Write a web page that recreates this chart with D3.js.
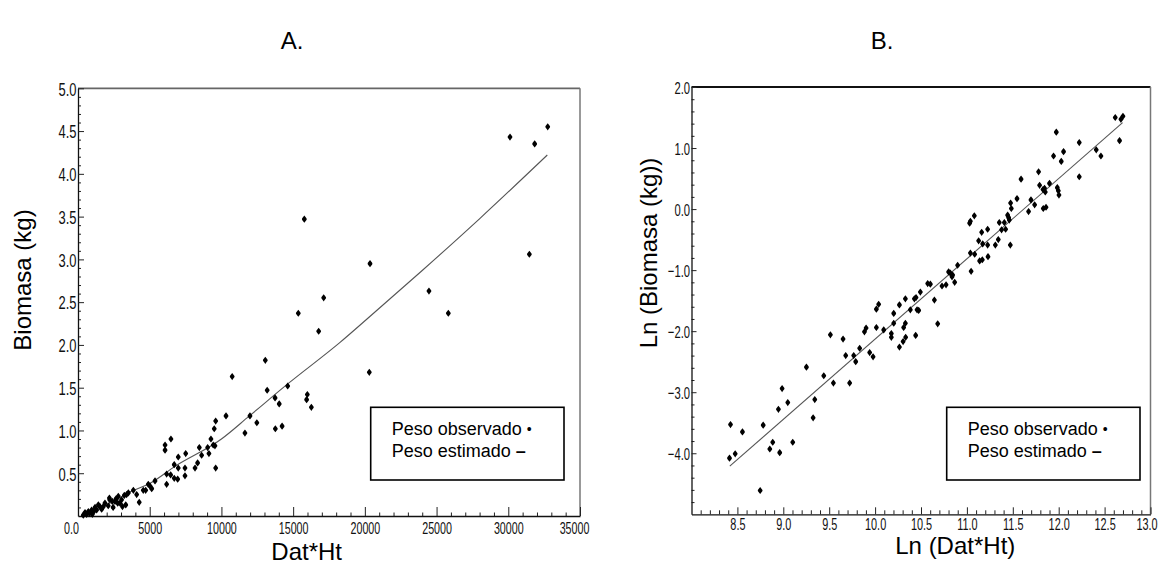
<!DOCTYPE html>
<html><head><meta charset="utf-8">
<script src="https://cdn.jsdelivr.net/npm/d3@7"></script>
<style>
html,body{margin:0;padding:0;background:#fff;}
svg{display:block;font-family:"Liberation Sans",Arial,sans-serif;}
</style></head>
<body>
<svg id="chart" width="1165" height="565"></svg>
<script>
// ---------- Panel A data: Dat*Ht vs Biomasa (kg) ----------
const aDatHt = [370,600,490,720,1090,950,1300,1190,1530,1770,2110,1420,1880,2390,2580,2190,2210,2770,2930,3040,2810,3230,3330,3390,3510,800,1650,2450,2650,1000,3100,
  3860,4090,4270,4550,4720,4900,5020,5140,5370,6070,6070,6480,6180,6180,6460,6710,6710,6950,6990,6990,7510,7460,7460,8160,8340,8620,8460,9040,9130,9270,9430,9550,9500,9600,9600,
  10320,11640,11990,12470,10750,13060,13190,13740,14030,13760,14230,14620,15360,15780,15990,15940,16270,16780,17130,20310,20360,24470,25820,30120,31470,31840,32750];
const aBiomasa = [0.01,0.02,0.04,0.05,0.05,0.07,0.07,0.10,0.11,0.11,0.12,0.13,0.15,0.17,0.17,0.21,0.19,0.15,0.15,0.19,0.23,0.24,0.13,0.25,0.27,0.03,0.08,0.10,0.20,0.02,0.11,
  0.30,0.25,0.16,0.30,0.30,0.37,0.35,0.32,0.41,0.83,0.77,0.90,0.49,0.37,0.48,0.60,0.44,0.43,0.69,0.56,0.73,0.56,0.47,0.56,0.62,0.71,0.80,0.80,0.73,0.90,0.83,0.82,1.02,1.11,0.56,
  1.17,0.97,1.17,1.09,1.63,1.82,1.47,1.38,1.31,1.02,1.05,1.52,2.37,3.47,1.42,1.36,1.27,2.16,2.55,1.68,2.95,2.63,2.37,4.43,3.06,4.35,4.55];
// estimated curve
const aFitDatHt  = [300,2000,3860,5000,6760,10000,11950,14665,18270,20130,24000,28030,32720];
const aFitBiomasa= [0.03,0.13,0.30,0.38,0.58,0.90,1.17,1.55,2.03,2.30,2.87,3.48,4.22];
const aXTicks = [0,5000,10000,15000,20000,25000,30000,35000];
const aXTickLabels = ["0.0","5000","10000","15000","20000","25000","30000","35000"];
const aYTicks = [0.5,1.0,1.5,2.0,2.5,3.0,3.5,4.0,4.5,5.0];

// ---------- Panel B data: Ln(Dat*Ht) vs Ln(Biomasa) ----------
const bLnDatHt = [8.425,8.414,8.476,8.555,8.781,8.748,8.853,8.885,8.961,8.947,8.987,9.049,9.103,9.252,9.325,9.343,9.441,9.513,9.546,9.651,9.680,9.723,9.767,9.789,9.832,9.884,9.902,9.941,9.978,10.014,10.014,10.039,
  10.094,10.177,10.177,10.203,10.203,10.265,10.265,10.305,10.333,10.311,10.330,10.330,10.384,10.428,10.446,10.442,10.457,10.475,10.493,10.573,10.602,10.646,10.682,10.729,10.773,10.801,10.838,10.820,10.845,10.867,10.899,
  11.046,11.038,11.085,11.030,11.038,11.081,11.128,11.139,11.168,11.161,11.172,11.226,11.226,11.230,11.310,11.342,11.353,11.378,11.408,11.422,11.444,11.455,11.462,11.473,11.476,11.484,11.546,11.590,11.672,11.698,11.738,11.781,11.792,11.832,11.862,11.829,11.854,11.846,11.900,11.944,11.974,11.985,11.996,12.003,12.028,12.053,12.224,12.224,12.409,12.460,12.616,12.663,12.678,12.700];
const bLnBiomasa = [-3.53,-4.08,-4.01,-3.65,-3.54,-4.61,-3.93,-3.82,-3.99,-3.28,-2.94,-3.17,-3.82,-2.59,-3.42,-3.12,-2.73,-2.06,-2.85,-2.13,-2.40,-2.85,-2.40,-2.50,-2.28,-2.01,-1.95,-2.35,-2.42,-1.94,-1.64,-1.56,
  -1.98,-2.04,-2.10,-1.71,-1.87,-1.57,-2.26,-2.17,-2.10,-1.94,-1.87,-1.47,-1.65,-1.47,-1.45,-2.07,-1.65,-1.66,-1.36,-1.22,-1.23,-1.49,-1.88,-1.26,-1.24,-1.03,-1.11,-1.05,-1.08,-1.20,-0.92,
  -1.02,-0.72,-0.74,-0.23,-0.20,-0.11,-0.52,-0.85,-0.83,-0.38,-0.57,-0.59,-0.33,-0.78,-0.59,-0.50,-0.22,-0.34,-0.22,-0.33,-0.10,-0.14,-0.18,-0.59,0.10,0.01,0.17,0.49,-0.04,0.15,0.07,0.61,0.39,0.01,0.03,0.32,0.28,0.34,0.42,0.87,1.26,0.35,0.30,0.23,0.78,0.94,1.09,0.53,0.97,0.87,1.50,1.12,1.47,1.52];
const bFitLnDatHt = [8.417,12.696];
const bFitLnBiomasa = [-4.21,1.415];
const bXTicks = [8.5,9.0,9.5,10.0,10.5,11.0,11.5,12.0,12.5,13.0];
const bYTicks = [-4,-3,-2,-1,0,1,2];

const legendLines = ["Peso observado", "Peso estimado"];

// ---------- drawing ----------
const svg = d3.select("#chart");
svg.append("rect").attr("width",1165).attr("height",565).attr("fill","#fff");

const marker = "M0,-3.6C1,-2.1 2.4,-0.9 2.4,0C2.4,0.9 1,2.1 0,3.6C-1,2.1 -2.4,0.9 -2.4,0C-2.4,-0.9 -1,-2.1 0,-3.6Z";

function panel(o){
  const g = svg.append("g");
  const x = d3.scaleLinear(o.xDomain, o.xRange);
  const y = d3.scaleLinear(o.yDomain, o.yRange);
  // frame (top & right)
  g.append("line").attr("x1",o.xRange[0]).attr("x2",o.xRange[1]).attr("y1",o.yRange[1]).attr("y2",o.yRange[1])
    .attr("stroke",o.topColor).attr("stroke-width",1.8);
  g.append("line").attr("x1",o.xRange[1]).attr("x2",o.xRange[1]).attr("y1",o.yRange[1]).attr("y2",o.yRange[0])
    .attr("stroke","#777").attr("stroke-width",1.5);
  // minor ticks
  g.append("g").attr("transform",`translate(0,${o.yRange[0]})`)
    .call(d3.axisBottom(x).tickValues(o.xMinor).tickFormat("").tickSizeInner(-o.xMinorLen).tickSizeOuter(0))
    .call(s=>s.select(".domain").remove());
  g.append("g").attr("transform",`translate(${o.xRange[0]},0)`)
    .call(d3.axisLeft(y).tickValues(o.yMinor).tickFormat("").tickSizeInner(-3).tickSizeOuter(0))
    .call(s=>s.select(".domain").remove());
  // major x axis
  const xa = g.append("g").attr("transform",`translate(0,${o.yRange[0]})`)
    .call(d3.axisBottom(x).tickValues(o.xTicks).tickFormat(o.xFormat).tickSizeInner(-o.xMajorLen).tickSizeOuter(0).tickPadding(o.xPad));
  xa.selectAll("text").attr("font-size",o.xFont).attr("fill","#111")
    .attr("font-family",'"Liberation Sans",Arial,sans-serif')
    .attr("transform",(d,i)=>`translate(${(o.xShift[d]||0)},0) scale(${o.xScaleX},1)`);
  // major y axis
  const ya = g.append("g").attr("transform",`translate(${o.xRange[0]},0)`)
    .call(d3.axisLeft(y).tickValues(o.yTicks).tickFormat(d3.format(".1f")).tickSizeInner(-o.yMajorLen).tickSizeOuter(0));
  ya.selectAll("text").attr("x",null).attr("font-size",o.yFont).attr("fill","#111")
    .attr("font-family",'"Liberation Sans",Arial,sans-serif')
    .attr("transform",`translate(-1.5,1) scale(${o.yScaleX},1)`);
  g.selectAll(".domain").attr("stroke","#111").attr("stroke-width",1.3);
  g.selectAll(".tick line").attr("stroke","#222");
  // fit line
  const fit = o.fitX.map((v,i)=>[v,o.fitY[i]]);
  g.append("path").datum(fit).attr("fill","none").attr("stroke","#555").attr("stroke-width",1.1)
    .attr("d",d3.line().x(d=>x(d[0])).y(d=>y(d[1])).curve(d3.curveMonotoneX));
  // points
  g.selectAll("path.pt").data(o.px.map((v,i)=>[v,o.py[i]])).join("path").attr("class","pt")
    .attr("d",marker).attr("fill","#000")
    .attr("transform",d=>`translate(${x(d[0])},${y(d[1])})`);
  // legend
  const L = o.legend;
  g.append("rect").attr("x",L.x).attr("y",L.y).attr("width",L.w).attr("height",L.h)
    .attr("fill","#fff").attr("stroke","#000").attr("stroke-width",1.6);
  const t1 = g.append("text").attr("x",L.x+21).attr("y",L.y+28).attr("font-size",18).attr("fill","#000");
  t1.append("tspan").text(legendLines[0]+" ");
  t1.append("tspan").text("•").attr("font-size",14).attr("dy",-1);
  const t2 = g.append("text").attr("x",L.x+21).attr("y",L.y+49.5).attr("font-size",18).attr("fill","#000");
  t2.append("tspan").text(legendLines[1]+" ");
  t2.append("tspan").text("–").attr("font-weight","bold");
  // titles
  g.append("text").attr("x",o.title.x).attr("y",o.title.y).attr("text-anchor","middle")
    .attr("font-size",24).text(o.title.t);
  g.append("text").attr("x",o.xTitle.x).attr("y",o.xTitle.y).attr("text-anchor","middle")
    .attr("font-size",24).text(o.xTitle.t);
  g.append("text").attr("transform",`translate(${o.yTitle.x},${o.yTitle.y}) rotate(-90)`).attr("text-anchor","middle")
    .attr("font-size",24).text(o.yTitle.t);
}

panel({
  xDomain:[0,35000], xRange:[78,580], yDomain:[0,5], yRange:[516,88.3],
  topColor:"#666",
  xTicks:aXTicks, xFormat:(d,i)=>aXTickLabels[i], xMinor:d3.range(1000,35000,1000).filter(v=>v%5000),
  xMajorLen:9, xMinorLen:3.5, xPad:6, xFont:17, xScaleX:0.63, xShift:{0:-7,35000:-6},
  yTicks:aYTicks, yMinor:d3.range(1,50).filter(v=>v%5).map(v=>v/10),
  yMajorLen:6, yFont:18, yScaleX:0.72,
  fitX:aFitDatHt, fitY:aFitBiomasa, px:aDatHt, py:aBiomasa,
  legend:{x:370.7,y:407.3,w:193.3,h:72.7},
  title:{x:292,y:49,t:"A."}, xTitle:{x:306.7,y:560,t:"Dat*Ht"}, yTitle:{x:31,y:280,t:"Biomasa (kg)"}
});

panel({
  xDomain:[8,13], xRange:[691.5,1150.5], yDomain:[-5,2], yRange:[514.3,87],
  topColor:"#111",
  xTicks:bXTicks, xFormat:d3.format(".1f"), xMinor:d3.range(81,130).filter(v=>v%5).map(v=>v/10),
  xMajorLen:7, xMinorLen:4, xPad:4, xFont:17, xScaleX:0.64, xShift:{13:-4},
  yTicks:bYTicks, yMinor:d3.range(-24,10).filter(v=>v%5).map(v=>v/5),
  yMajorLen:5, yFont:17, yScaleX:0.66,
  fitX:bFitLnDatHt, fitY:bFitLnBiomasa, px:bLnDatHt, py:bLnBiomasa,
  legend:{x:946.7,y:407.3,w:193.3,h:72.7},
  title:{x:882,y:49,t:"B."}, xTitle:{x:955.3,y:554,t:"Ln (Dat*Ht)"}, yTitle:{x:657,y:253,t:"Ln (Biomasa (kg))"}
});
</script>
</body></html>
